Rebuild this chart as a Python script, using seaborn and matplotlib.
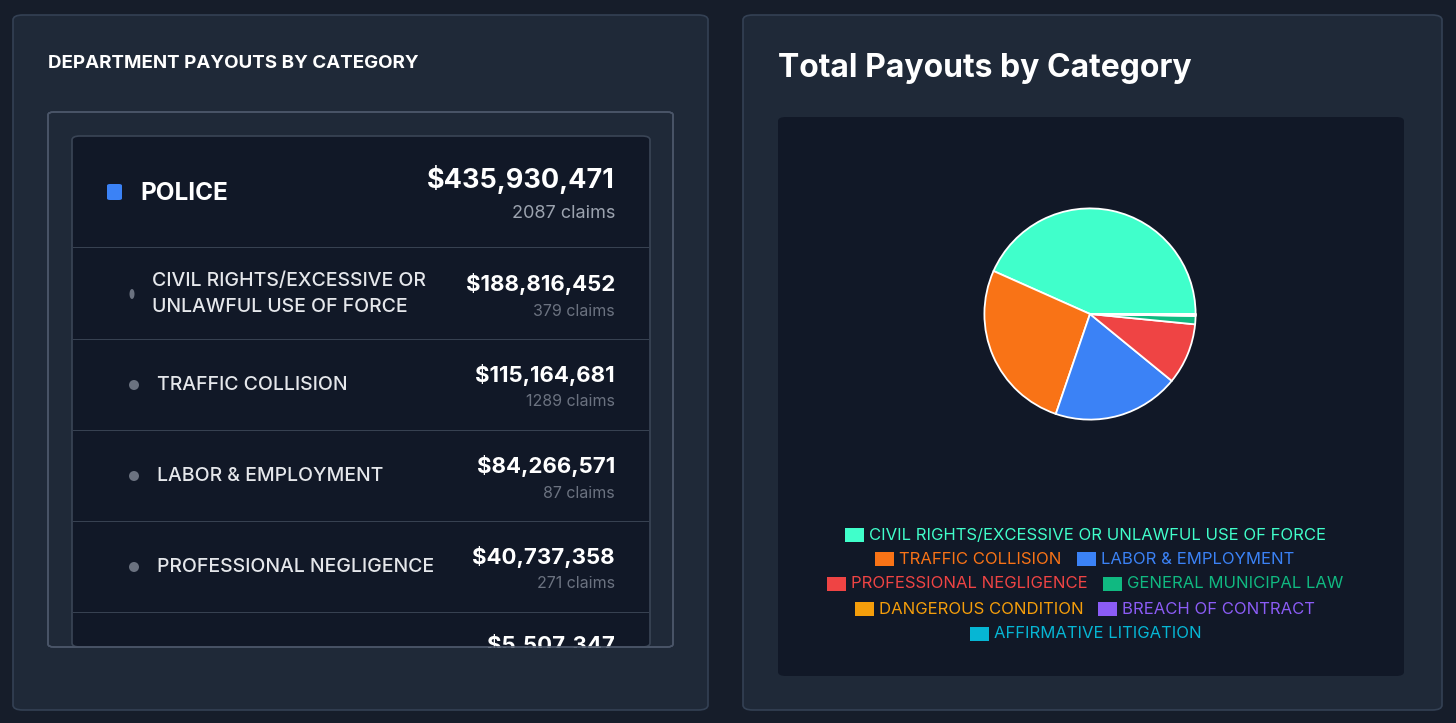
import matplotlib
matplotlib.use("Agg")
import matplotlib.pyplot as plt
import seaborn as sns
from matplotlib.patches import FancyBboxPatch, Rectangle, Ellipse

sns.set_theme(style="dark")
plt.rcParams['font.family'] = ['Inter', 'DejaVu Sans']

categories = ["CIVIL RIGHTS/EXCESSIVE OR UNLAWFUL USE OF FORCE", "TRAFFIC COLLISION",
              "LABOR & EMPLOYMENT", "PROFESSIONAL NEGLIGENCE", "GENERAL MUNICIPAL LAW",
              "DANGEROUS CONDITION", "BREACH OF CONTRACT", "AFFIRMATIVE LITIGATION"]
payouts = [188816452, 115164681, 84266571, 40737358, 5507347, 600000, 400000, 300000]
colors = ["#40FFCB", "#F97316", "#3B82F6", "#EF4444", "#10B981", "#F59E0B", "#8B5CF6", "#06B6D4"]

list_names = ["CIVIL RIGHTS/EXCESSIVE OR\nUNLAWFUL USE OF FORCE", "TRAFFIC COLLISION",
              "LABOR & EMPLOYMENT", "PROFESSIONAL NEGLIGENCE"]
list_amounts = ["$188,816,452", "$115,164,681", "$84,266,571", "$40,737,358"]
list_claims = ["379 claims", "1289 claims", "87 claims", "271 claims"]

W, H = 1456, 723
fig = plt.figure(figsize=(W/100, H/100), dpi=100)
fig.patch.set_facecolor("#161d2a")

def P(x, y):
    return x / W, 1 - y / H

def box(x0, y0, x1, y1, fc, ec, r=8, lw=1.2, z=1):
    bx, by = P(x0, y1)
    p = FancyBboxPatch((bx, by), (x1-x0)/W, (y1-y0)/H,
                       boxstyle=f"round,pad=0,rounding_size={r/W}",
                       transform=fig.transFigure, fc=fc, ec=ec, lw=lw, zorder=z)
    fig.add_artist(p)

def T(x, y, s, **kw):
    fig.text(*P(x, y), s, **kw)

# panels
box(13, 15, 708, 710, "#1f2938", "#344154", r=10)
box(743, 15, 1442, 710, "#1f2938", "#344154", r=10)

# left panel
T(48, 64, "DEPARTMENT PAYOUTS BY CATEGORY", color="white", fontsize=13.5, fontweight="bold", va="center")
box(48, 112, 673, 647, "#1f2938", "#4a5568", r=6)
box(72, 136, 650, 647, "#111827", "#3a4556", r=8, z=2)
for yy in [248, 340, 431, 522, 613]:
    fig.add_artist(Rectangle(P(73, yy), 576/W, 1.2/H, transform=fig.transFigure,
                             fc="#374151", ec="none", zorder=3))
box(107, 184, 122, 200, "#3B82F6", "none", r=3, z=3)
T(140, 193, "POLICE", color="white", fontsize=17.5, fontweight="bold", va="center")
T(615, 180, "$435,930,471", color="white", fontsize=19.5, fontweight="bold", va="center", ha="right")
T(615, 213, "2087 claims", color="#9ca3af", fontsize=13, va="center", ha="right")
row_y = [294, 385, 476, 567]
for i, (n, a, c) in enumerate(zip(list_names, list_amounts, list_claims)):
    y = row_y[i]
    w = 5 if i == 0 else 10
    fig.add_artist(Ellipse(P(132 if i == 0 else 134, y), w/W, 10/H, transform=fig.transFigure,
                           fc="#6b7280", ec="none", zorder=3))
    T(157 if i else 152, y, n, color="#e5e7eb", fontsize=14, fontweight="medium",
      va="center", linespacing=1.55)
    T(615, y - 10, a, color="white", fontsize=16, fontweight="bold", va="center", ha="right")
    T(615, y + 17, c, color="#6b7280", fontsize=11.5, va="center", ha="right")
T(615, 645, "$5,507,347", color="white", fontsize=16, fontweight="bold", va="center", ha="right")
# cover overflow
fig.add_artist(Rectangle(P(60, 705), 600/W, 57/H, transform=fig.transFigure, fc="#1f2938", ec="none", zorder=5))
box(48, 112, 673, 647, "none", "#4a5568", r=6, z=6)

# right panel
T(778, 68, "Total Payouts by Category", color="white", fontsize=23, fontweight="bold", va="center")
box(778, 117, 1404, 676, "#111827", "none", r=8)

ax = fig.add_axes([(1090-132)/W, 1-(314+132)/H, 264/W, 264/H])
ax.set_zorder(10)
ax.set_facecolor("none")
ax.patch.set_alpha(0)
ax.pie(payouts, colors=colors, startangle=0, counterclock=True,
       wedgeprops=dict(edgecolor="white", linewidth=1.3))
ax.set_aspect("equal")
ax.axis("off")

legend_pos = [(845, 535), (875, 559), (1077, 559), (827, 584), (1103, 584),
              (855, 609), (1098, 609), (970, 634)]
for (x, y), lab, col in zip(legend_pos, categories, colors):
    fig.add_artist(Rectangle(P(x, y + 7), 19/W, 14/H, transform=fig.transFigure, fc=col, ec="none"))
    T(x + 24, y, lab, color=col, fontsize=12, va="center")

fig.savefig("out.png", dpi=100, facecolor=fig.get_facecolor())
